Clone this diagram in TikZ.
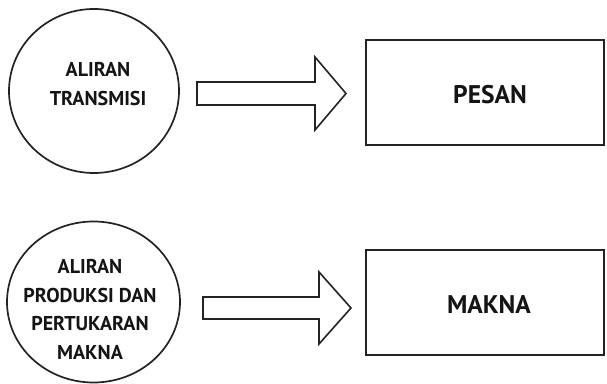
\documentclass[tikz,border=0pt]{standalone}
\usepackage{fontspec}
\setmainfont{PT Sans}
\definecolor{DiagLine}{RGB}{35,35,35}
\definecolor{DiagText}{RGB}{20,20,20}
\usetikzlibrary{shapes.geometric,calc}

\begin{document}
\begin{tikzpicture}[x=1pt,y=1pt,
    bubble/.style={draw=DiagLine,ellipse,line width=1.7pt,inner sep=0pt},
    ctext/.style={align=center,text=DiagText,font=\bfseries\fontsize{20}{28.5}\selectfont},
    box/.style={draw=DiagLine,line width=1.8pt,minimum width=238pt,
                minimum height=105pt,inner sep=0pt},
    btext/.style={text=DiagText,font=\bfseries\fontsize{25.5}{30}\selectfont},
    blk/.style={draw=DiagLine,line width=1.6pt,line join=miter,fill=white}]
    \useasboundingbox (0,0) rectangle (607,383);
    % top row
    \node[bubble,minimum width=170pt,minimum height=164pt] (c1) at (94,292) {};
    \node[ctext] (t1) at (98,299) {ALIRAN\\TRANSMISI};
    \node[box] (r1) at (485,290.5) {};
    \node[btext] (p1) at (490,288) {PESAN};
    \coordinate (a1s) at (197,289.5);
    \coordinate (a1e) at (346,289.5);
    \draw[blk] (a1s) ++(0,11.5) -- ++(118,0) -- ++(0,25) -- (a1e)
        -- ++(-31,-36.5) -- ++(0,25) -- ++(-118,0) -- cycle;
    % bottom row
    \node[bubble,minimum width=173pt,minimum height=161pt] (c2) at (93.5,81) {};
    \node[ctext] (t2) at (90,73.5) {ALIRAN\\PRODUKSI DAN\\PERTUKARAN\\MAKNA};
    \node[box] (r2) at (485,80.5) {};
    \node[btext] (p2) at (489,78) {MAKNA};
    \coordinate (a2s) at (203,75);
    \coordinate (a2e) at (351,75);
    \draw[blk] (a2s) ++(0,11) -- ++(116,0) -- ++(0,25) -- (a2e)
        -- ++(-32,-36) -- ++(0,25) -- ++(-116,0) -- cycle;
\end{tikzpicture}
\end{document}
